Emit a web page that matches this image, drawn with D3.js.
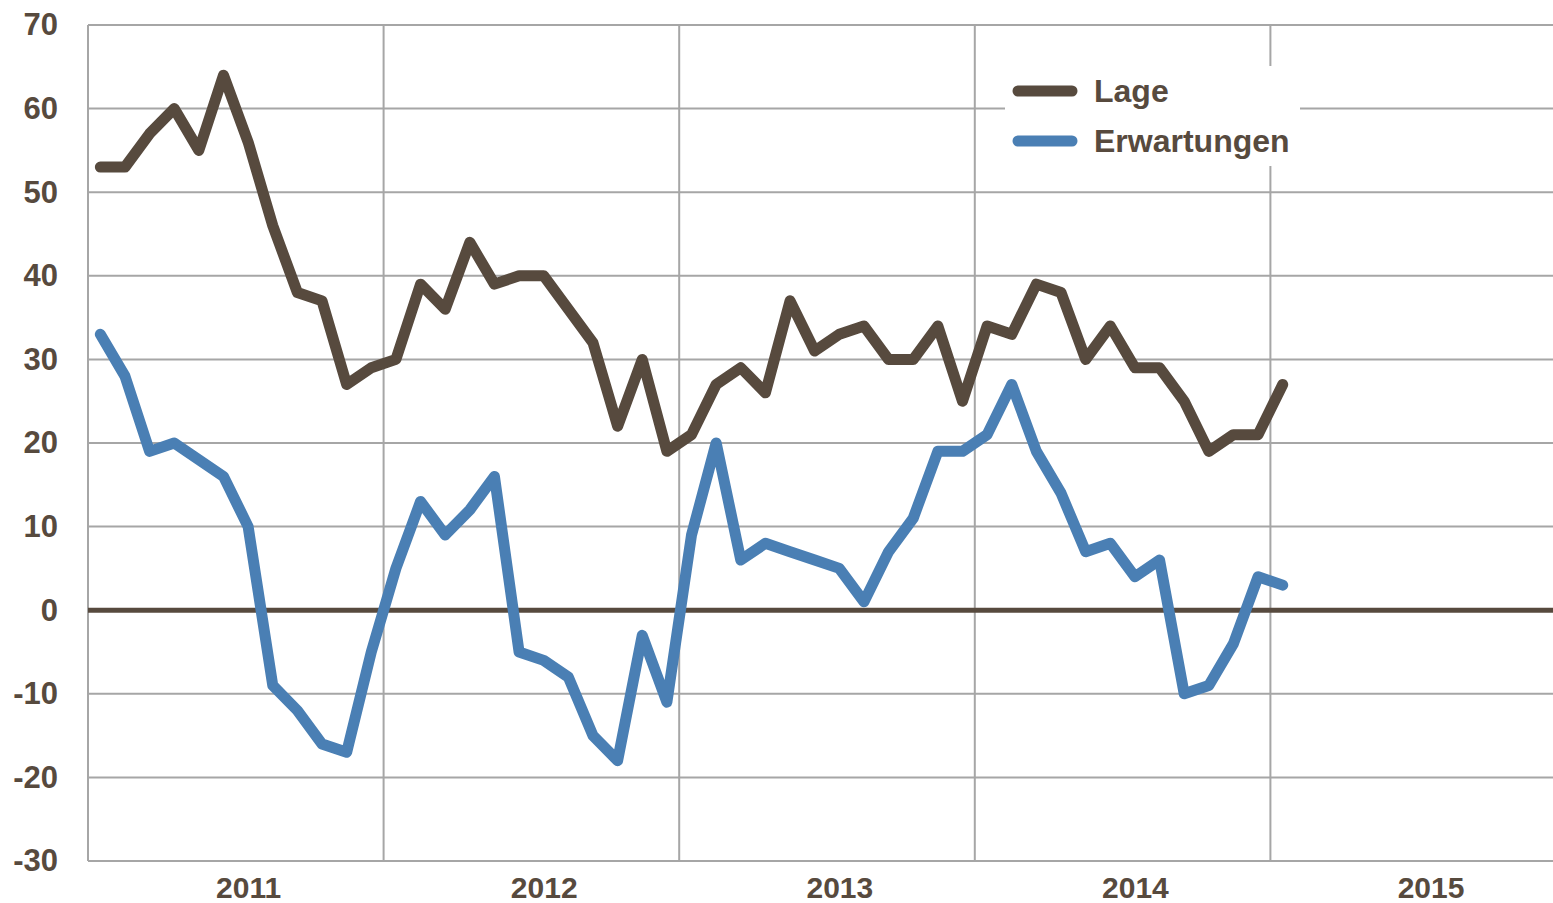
<!DOCTYPE html>
<html>
<head>
    <meta charset="utf-8">
    <script src="https://cdn.jsdelivr.net/npm/d3@7"></script>
    <style>
        body { margin: 0; background: #fff; }
        text { font-family: "Liberation Sans", Arial, sans-serif; font-weight: bold; fill: #574a3e; }
    </style>
</head>
<body>
<script>
    // monthly values, Jan 2011 .. Jan 2015
    let lage = [53,53,57,60,55,64,56,46,38,37,27,29,30,39,36,44,39,40,40,36,32,22,30,19,21,27,29,26,37,31,33,34,30,30,34,25,34,33,39,38,30,34,29,29,25,19,21,21,27];
    let erwartungen = [33,28,19,20,18,16,10,-9,-12,-16,-17,-5,5,13,9,12,16,-5,-6,-8,-15,-18,-3,-11,9,20,6,8,7,6,5,1,7,11,19,19,21,27,19,14,7,8,4,6,-10,-9,-4,4,3];
    let years = ["2011", "2012", "2013", "2014", "2015"];
    let yTicks = [70, 60, 50, 40, 30, 20, 10, 0, -10, -20, -30];
    let seriesNames = ["Lage", "Erwartungen"];

    let width = 1553, height = 903;
    let plotLeft = 88, plotTop = 25, plotBottom = 861;
    let yearWidth = 295.6;
    let brown = "#574a3e", blue = "#4a7fb4", grid = "#a6a6a6";

    let svg = d3.select("body").append("svg")
        .attr("width", width)
        .attr("height", height);

    let x = d3.scaleLinear()
        .domain([0, years.length * 12])
        .range([plotLeft, plotLeft + yearWidth * years.length]);

    let y = d3.scaleLinear()
        .domain([-30, 70])
        .range([plotBottom, plotTop]);

    // horizontal gridlines
    svg.append("g")
        .selectAll("line")
        .data(yTicks)
        .join("line")
            .attr("x1", plotLeft)
            .attr("x2", width)
            .attr("y1", d => y(d))
            .attr("y2", d => y(d))
            .attr("stroke", grid)
            .attr("stroke-width", 2);

    // vertical gridlines at year boundaries
    svg.append("g")
        .selectAll("line")
        .data(d3.range(0, years.length))
        .join("line")
            .attr("x1", d => x(d * 12))
            .attr("x2", d => x(d * 12))
            .attr("y1", plotTop)
            .attr("y2", plotBottom)
            .attr("stroke", grid)
            .attr("stroke-width", 2);

    // zero line
    svg.append("line")
        .attr("x1", plotLeft)
        .attr("x2", width)
        .attr("y1", y(0))
        .attr("y2", y(0))
        .attr("stroke", brown)
        .attr("stroke-width", 5);

    // y axis labels (plain hyphen for negatives)
    let yAxis = d3.axisLeft(y)
        .tickValues(yTicks)
        .tickFormat(d => String(d))
        .tickSize(0)
        .tickPadding(30);
    svg.append("g")
        .attr("transform", "translate(" + plotLeft + ",0)")
        .call(yAxis)
        .call(g => g.select(".domain").remove())
        .selectAll("text")
            .style("font-size", "31px")
            .attr("fill", brown);

    // x axis labels at July of each year
    let xAxis = d3.axisBottom(x)
        .tickValues(years.map((d, i) => i * 12 + 6.5))
        .tickFormat((d, i) => years[i])
        .tickSize(0)
        .tickPadding(16);
    svg.append("g")
        .attr("transform", "translate(0," + plotBottom + ")")
        .call(xAxis)
        .call(g => g.select(".domain").remove())
        .selectAll("text")
            .style("font-size", "30px")
            .attr("fill", brown);

    // legend background covers gridlines
    svg.append("rect")
        .attr("x", 1005)
        .attr("y", 66)
        .attr("width", 295)
        .attr("height", 100)
        .attr("fill", "#fff");

    let line = d3.line()
        .x((d, i) => x(i + 0.5))
        .y(d => y(d));

    svg.append("path")
        .attr("d", line(lage))
        .attr("fill", "none")
        .attr("stroke", brown)
        .attr("stroke-width", 11)
        .attr("stroke-linejoin", "round")
        .attr("stroke-linecap", "round");

    svg.append("path")
        .attr("d", line(erwartungen))
        .attr("fill", "none")
        .attr("stroke", blue)
        .attr("stroke-width", 11)
        .attr("stroke-linejoin", "round")
        .attr("stroke-linecap", "round");

    // legend
    let legend = svg.append("g")
        .selectAll("g")
        .data(seriesNames)
        .join("g")
            .attr("transform", (d, i) => "translate(1018," + (91 + i * 50) + ")");

    legend.append("line")
        .attr("x1", 0)
        .attr("x2", 54)
        .attr("stroke", (d, i) => i == 0 ? brown : blue)
        .attr("stroke-width", 11)
        .attr("stroke-linecap", "round");

    legend.append("text")
        .attr("x", 76)
        .attr("dy", "0.35em")
        .style("font-size", "32px")
        .text(d => d);
</script>
</body>
</html>
